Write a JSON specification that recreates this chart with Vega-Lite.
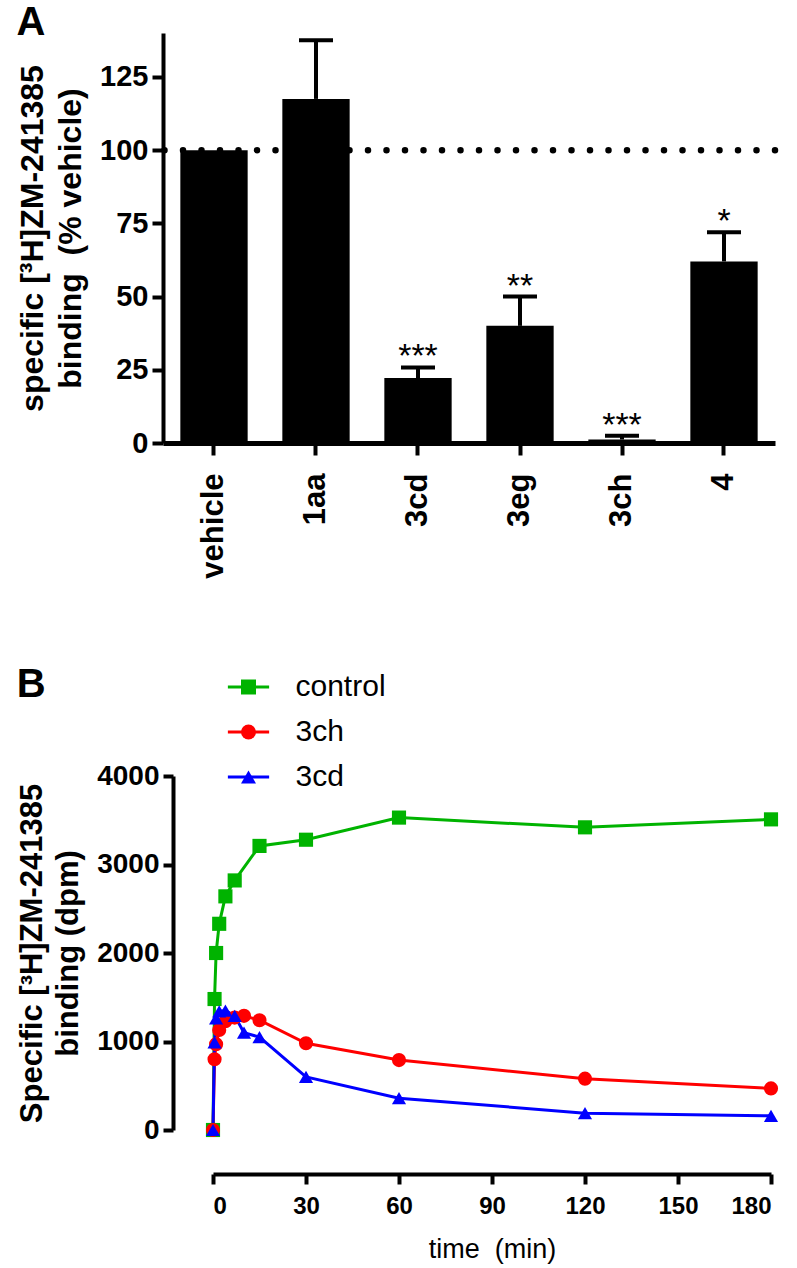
{
  "$schema": "https://vega.github.io/schema/vega-lite/v6.json",
  "padding": {"left": 16, "top": 3, "right": 5, "bottom": 5},
  "background": "white",
  "spacing": 86,
  "resolve": {"legend": {"stroke": "independent", "fill": "independent", "shape": "independent"}, "scale": {"x": "independent", "y": "independent"}},
  "config": {
    "font": "Liberation Sans",
    "view": {"stroke": null},
    "axis": {"grid": false, "domainColor": "black", "tickColor": "black", "labelColor": "black", "titleColor": "black"},
    "title": {"fontSize": 40, "fontWeight": "bold", "anchor": "start", "frame": "bounds", "color": "black", "font": "Liberation Sans"}
  },
  "vconcat": [
    {
      "title": {"text": "A", "offset": -30},
      "width": 612,
      "height": 410,
      "layer": [
        {
          "data": {"values": [{"ref": "vehicle level"}]},
          "mark": {"type": "rule", "strokeDash": [0, 18.5], "strokeCap": "round", "strokeWidth": 6.5, "color": "black"},
          "encoding": {"y": {"datum": 100, "type": "quantitative"}}
        },
        {
          "data": {"values": [
            {"compound": "vehicle", "binding": 100, "upper": null, "sig": ""},
            {"compound": "1aa", "binding": 117.5, "upper": 137.5, "sig": ""},
            {"compound": "3cd", "binding": 22.2, "upper": 25.8, "sig": "***"},
            {"compound": "3eg", "binding": 40, "upper": 50, "sig": "**"},
            {"compound": "3ch", "binding": 1.2, "upper": 2.5, "sig": "***"},
            {"compound": "4", "binding": 62, "upper": 72, "sig": "*"}
          ]},
          "encoding": {
            "x": {
              "field": "compound", "type": "nominal", "sort": null,
              "scale": {"paddingInner": 0.34, "paddingOuter": 0.17},
              "axis": {"title": null, "labelAngle": -90, "labelFontSize": 31, "labelFontWeight": "bold", "labelPadding": 18, "tickSize": 12, "tickWidth": 4, "domainWidth": 5}
            }
          },
          "layer": [
            {
              "mark": {"type": "bar", "color": "black"},
              "encoding": {
                "y": {
                  "field": "binding", "type": "quantitative",
                  "scale": {"domain": [0, 140], "nice": false},
                  "axis": {
                    "title": ["specific [³H]ZM-241385", "binding\u00a0 (% vehicle)"],
                    "titleFontSize": 32, "titleFontWeight": "bold", "titleLineHeight": 38, "titlePadding": 12,
                    "values": [0, 25, 50, 75, 100, 125],
                    "labelFontSize": 29, "labelFontWeight": "bold", "labelPadding": 4,
                    "tickSize": 11, "tickWidth": 4, "domainWidth": 4
                  }
                }
              }
            },
            {
              "transform": [{"filter": "datum.upper != null"}],
              "mark": {"type": "rule", "color": "black", "strokeWidth": 4},
              "encoding": {
                "y": {"field": "binding", "type": "quantitative"},
                "y2": {"field": "upper"}
              }
            },
            {
              "transform": [{"filter": "datum.upper != null"}],
              "mark": {"type": "tick", "color": "black", "size": 34, "thickness": 4, "opacity": 1},
              "encoding": {
                "y": {"field": "upper", "type": "quantitative"}
              }
            },
            {
              "transform": [{"filter": "datum.upper != null"}],
              "mark": {"type": "text", "color": "black", "fontSize": 34, "baseline": "alphabetic", "dy": 0},
              "encoding": {
                "y": {"field": "upper", "type": "quantitative"},
                "text": {"field": "sig"}
              }
            }
          ]
        }
      ]
    },
    {
      "title": {"text": "B", "offset": -33},
      "width": 608,
      "height": 354,
      "data": {"values": [
        {"treatment": "control", "time": 0, "binding": 0},
        {"treatment": "control", "time": 0.5, "binding": 1480},
        {"treatment": "control", "time": 1, "binding": 2000},
        {"treatment": "control", "time": 2, "binding": 2330},
        {"treatment": "control", "time": 4, "binding": 2640},
        {"treatment": "control", "time": 7, "binding": 2820},
        {"treatment": "control", "time": 15, "binding": 3210},
        {"treatment": "control", "time": 30, "binding": 3280},
        {"treatment": "control", "time": 60, "binding": 3530},
        {"treatment": "control", "time": 120, "binding": 3420},
        {"treatment": "control", "time": 180, "binding": 3510},
        {"treatment": "3ch", "time": 0, "binding": 0},
        {"treatment": "3ch", "time": 0.5, "binding": 800},
        {"treatment": "3ch", "time": 1, "binding": 970},
        {"treatment": "3ch", "time": 2, "binding": 1130},
        {"treatment": "3ch", "time": 4, "binding": 1230},
        {"treatment": "3ch", "time": 7, "binding": 1270},
        {"treatment": "3ch", "time": 10, "binding": 1290},
        {"treatment": "3ch", "time": 15, "binding": 1240},
        {"treatment": "3ch", "time": 30, "binding": 980},
        {"treatment": "3ch", "time": 60, "binding": 790},
        {"treatment": "3ch", "time": 120, "binding": 580},
        {"treatment": "3ch", "time": 180, "binding": 470},
        {"treatment": "3cd", "time": 0, "binding": 0},
        {"treatment": "3cd", "time": 0.5, "binding": 990},
        {"treatment": "3cd", "time": 1, "binding": 1260},
        {"treatment": "3cd", "time": 2, "binding": 1340},
        {"treatment": "3cd", "time": 4, "binding": 1350},
        {"treatment": "3cd", "time": 7, "binding": 1290},
        {"treatment": "3cd", "time": 10, "binding": 1100},
        {"treatment": "3cd", "time": 15, "binding": 1050},
        {"treatment": "3cd", "time": 30, "binding": 600},
        {"treatment": "3cd", "time": 60, "binding": 360},
        {"treatment": "3cd", "time": 120, "binding": 190},
        {"treatment": "3cd", "time": 180, "binding": 160}
      ]},
      "encoding": {
        "x": {
          "field": "time", "type": "quantitative",
          "scale": {"domain": [0, 180], "range": [50, 608], "nice": false},
          "axis": {
            "title": "time\u00a0 (min)", "titleFontWeight": "normal", "titleFontSize": 27, "titlePadding": 18,
            "values": [0, 30, 60, 90, 120, 150, 180],
            "labelFontSize": 24, "labelFontWeight": "bold", "labelPadding": 10,
            "offset": 44, "tickSize": 10, "tickWidth": 4, "domainWidth": 4
          }
        },
        "y": {
          "field": "binding", "type": "quantitative",
          "scale": {"domain": [0, 4000], "nice": false},
          "axis": {
            "title": ["Specific [³H]ZM-241385", "binding (dpm)"],
            "titleFontSize": 31, "titleFontWeight": "bold", "titleLineHeight": 36, "titlePadding": 12,
            "values": [0, 1000, 2000, 3000, 4000], "format": "d",
            "labelFontSize": 28, "labelFontWeight": "bold", "labelPadding": 4,
            "offset": -10, "tickSize": 10, "tickWidth": 4, "domainWidth": 4
          }
        }
      },
      "layer": [
        {
          "mark": {"type": "line", "strokeWidth": 3},
          "encoding": {
            "stroke": {
              "field": "treatment", "type": "nominal",
              "scale": {"domain": ["control", "3ch", "3cd"], "range": ["#00b300", "#ff0000", "#0000ff"]},
              "legend": {
                "title": null, "orient": "none", "legendX": 70.5, "legendY": -104, "padding": 0,
                "labelFontSize": 30, "labelOffset": 32, "rowPadding": 15, "symbolSize": 225,
                "symbolType": "M-2.75,0H2.75", "symbolStrokeWidth": 3, "labelOpacity": 0
              }
            }
          }
        },
        {
          "mark": {"type": "point", "filled": true, "size": 200, "opacity": 1},
          "encoding": {
            "fill": {
              "field": "treatment", "type": "nominal", "sort": null,
              "scale": {"range": ["#00b300", "#ff0000", "#0000ff"]},
              "legend": {
                "title": null, "orient": "none", "legendX": 70.5, "legendY": -104, "padding": 0,
                "labelFontSize": 30, "labelOffset": 32, "rowPadding": 15, "symbolSize": 225,
                "symbolStrokeWidth": 3
              }
            },
            "shape": {
              "field": "treatment", "type": "nominal", "sort": null,
              "scale": {"range": ["square", "circle", "triangle-up"]},
              "legend": {
                "title": null, "orient": "none", "legendX": 70.5, "legendY": -104, "padding": 0,
                "labelFontSize": 30, "labelOffset": 32, "rowPadding": 15, "symbolSize": 225,
                "symbolStrokeWidth": 3
              }
            }
          }
        }
      ]
    }
  ]
}
